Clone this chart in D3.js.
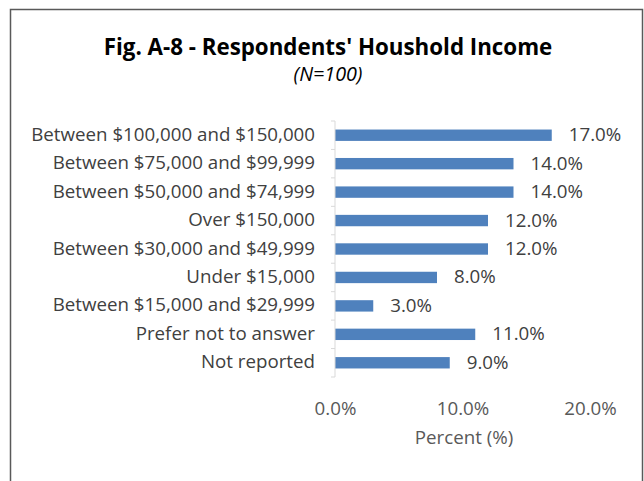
<!DOCTYPE html>
<html><head><meta charset="utf-8">
<script src="https://cdn.jsdelivr.net/npm/d3@7"></script>
<style>body{margin:0;background:#fff}svg{display:block}</style>
</head><body>
<script>
const categories = ["Between $100,000 and $150,000","Between $75,000 and $99,999","Between $50,000 and $74,999","Over $150,000","Between $30,000 and $49,999","Under $15,000","Between $15,000 and $29,999","Prefer not to answer","Not reported"];
const values = [17.0,14.0,14.0,12.0,12.0,8.0,3.0,11.0,9.0];
const xTicks = [0,10,20];
const title = "Fig. A-8 - Respondents' Houshold Income";
const subtitle = "(N=100)";
const xTitle = "Percent (%)";

const W=644,H=481;
const font="'Open Sans', sans-serif";
const svg=d3.select("body").append("svg").attr("width",W).attr("height",H);
svg.append("rect").attr("x",10.5).attr("y",9.5).attr("width",632).attr("height",480).attr("fill","#fff").attr("stroke","#595959").attr("stroke-width",1.5);

function fit(sel, target){
  const w=sel.node().getComputedTextLength();
  const fs=parseFloat(sel.attr("font-size"));
  return fs*target/w;
}

const x=d3.scaleLinear().domain([0,20]).range([335,590]);
const y=d3.scaleBand().domain(categories).range([121,377]).paddingInner(0.6).paddingOuter(0.3);

const t=svg.append("text").attr("x",328).attr("y",55).attr("text-anchor","middle").attr("font-family",font).attr("font-weight","bold").attr("font-size",20).attr("fill","#000").text(title);
t.attr("font-size",fit(t,449));
const st=svg.append("text").attr("x",328).attr("y",81).attr("text-anchor","middle").attr("font-family",font).attr("font-style","italic").attr("font-size",15).attr("fill","#000").text(subtitle);
st.attr("font-size",fit(st,69));

svg.selectAll("rect.bar").data(values).join("rect").attr("class","bar")
 .attr("x",x(0)).attr("y",(d,i)=>y(categories[i])).attr("width",d=>x(d)-x(0)).attr("height",y.bandwidth()).attr("fill","#4F81BD");

// y axis
const yb=d3.scaleBand().domain(categories).range([121,377]);
const ya=svg.append("g").attr("transform","translate(335,0)");
ya.append("line").attr("x1",0).attr("x2",0).attr("y1",121).attr("y2",377).attr("stroke","#d9d9d9");
const bounds=categories.map(c=>yb(c)).concat([377]);
ya.selectAll("line.t").data(bounds).join("line").attr("class","t").attr("x1",-4).attr("x2",0).attr("y1",d=>d).attr("y2",d=>d).attr("stroke","#d9d9d9");
const cats=svg.selectAll("text.cat").data(categories).join("text").attr("class","cat")
 .attr("x",315).attr("y",d=>yb(d)+yb.bandwidth()/2+5.5).attr("text-anchor","end")
 .attr("font-family",font).attr("font-size",16).attr("fill","#404040").text(d=>d);
const fs=fit(d3.select(cats.nodes()[0]),284);
cats.attr("font-size",fs);

svg.selectAll("text.val").data(values).join("text").attr("class","val")
 .attr("x",d=>x(d)+17).attr("y",(d,i)=>y(categories[i])+y.bandwidth()/2+6)
 .attr("font-family",font).attr("font-size",fs).attr("fill","#404040").text(d=>d.toFixed(1)+"%");

// x axis labels
const xa=svg.append("g").attr("transform","translate(0,405)")
 .call(d3.axisBottom(x).tickValues(xTicks).tickSize(0).tickFormat(d=>d.toFixed(1)+"%"));
xa.select(".domain").remove();
xa.selectAll("text").attr("font-family",font).attr("font-size",fs).attr("fill","#595959").attr("dy","0.35em");
svg.append("text").attr("x",464).attr("y",443.5).attr("text-anchor","middle").attr("font-family",font).attr("font-size",fs).attr("fill","#595959").text(xTitle);
</script>
</body></html>
